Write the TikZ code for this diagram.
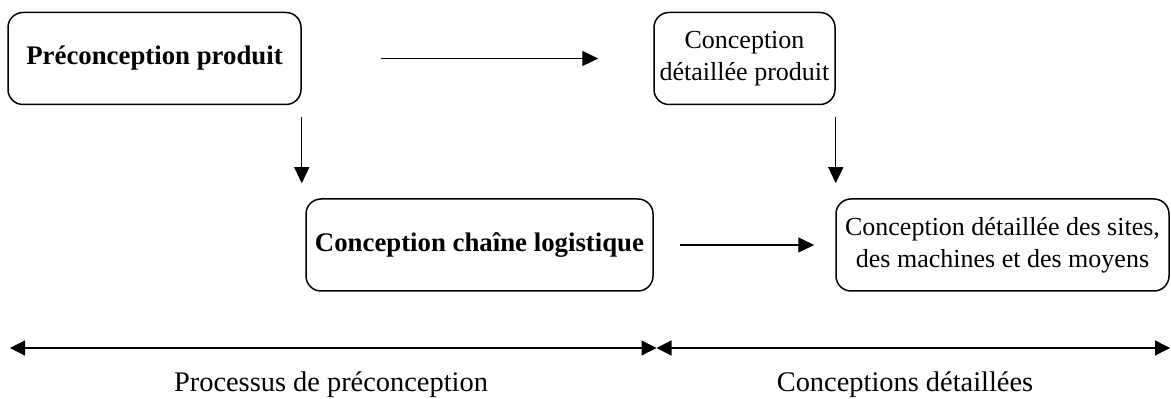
\documentclass[tikz,border=0pt]{standalone}
\usepackage{fontspec}
\setmainfont{Liberation Serif}
\usetikzlibrary{arrows.meta}
\tikzset{
  boite/.style={draw, line width=0.75pt, rounded corners=7.5pt, inner sep=0pt, minimum height=46pt, align=center, font=\fontsize{13}{16}\selectfont},
  gras/.style={font=\fontsize{13.4}{16}\selectfont\bfseries},
  fleche/.style={-{Triangle[length=8pt,width=7.5pt]}, line width=0.6pt},
  double fleche/.style={{Triangle[length=7.5pt,width=7.5pt]}-{Triangle[length=7.5pt,width=7.5pt]}, line width=0.65pt},
}
\begin{document}
\begin{tikzpicture}[x=0.5pt,y=-0.5pt]
\useasboundingbox (0,0) rectangle (1171,399);

\node [boite, gras, minimum width=146.5pt] (pre) at (154.5,58.5) {Préconception produit};
\node [boite, minimum width=90.5pt] (cdp) at (744.5,58.5) {Conception\\détaillée produit};
\node [boite, gras, minimum width=173.5pt] (ccl) at (479.5,245) {Conception chaîne logistique};
\node [boite, minimum width=166.5pt] (cds) at (1002.5,245) {Conception détaillée des sites,\\des machines et des moyens};

\draw [fleche, shorten <=39.5pt, shorten >=27.5pt] (pre) -- (cdp);
\draw [fleche, shorten <=6pt, shorten >=7.5pt] (pre.south east) -- (pre.south east |- ccl.north);
\draw [fleche, shorten <=6pt, shorten >=7.5pt] (cdp.south east) -- (cdp.south east |- cds.north);
\draw [fleche, shorten <=13pt, shorten >=10.5pt] (ccl) -- (cds);

\coordinate (gauche) at (10,348);
\coordinate (milieu) at (656.5,348);
\coordinate (droite) at (1170,348);
\draw [double fleche] (gauche) -- (milieu);
\draw [double fleche] (milieu) -- (droite);

\node [font=\fontsize{14.2}{17}\selectfont] (lpre) at (331,385) {Processus de préconception};
\node [font=\fontsize{14.2}{17}\selectfont] (ldet) at (905,385) {Conceptions détaillées};
\end{tikzpicture}
\end{document}
